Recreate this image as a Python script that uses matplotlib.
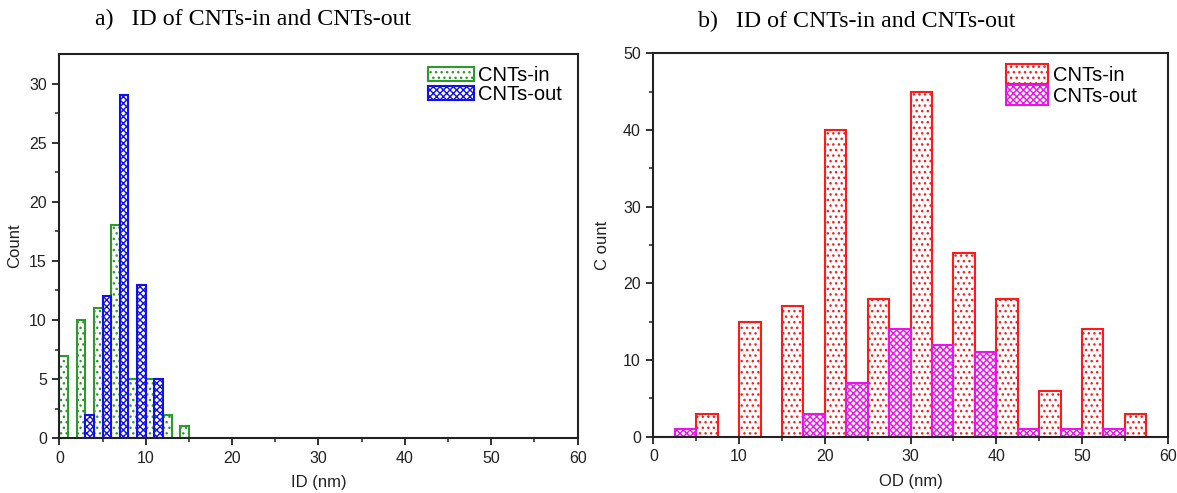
import matplotlib
matplotlib.use("Agg")
import matplotlib.pyplot as plt
import numpy as np

plt.rcParams["font.family"] = ["Liberation Sans", "DejaVu Sans"]
plt.rcParams["hatch.linewidth"] = 1.0

# (a) inner diameter, 2 nm bins (left edges)
id_bins = [0, 2, 4, 6, 8, 10, 12, 14]
id_in = [7, 10, 11, 18, 5, 5, 2, 1]
id_out = [0, 2, 12, 29, 13, 5, 0, 0]

# (b) outer diameter, 5 nm bins (left edges)
od_bins = [0, 5, 10, 15, 20, 25, 30, 35, 40, 45, 50, 55]
od_in = [0, 3, 15, 17, 40, 18, 45, 24, 18, 6, 14, 3]
od_out = [1, 0, 0, 3, 7, 14, 12, 11, 1, 1, 1, 0]

fig = plt.figure(figsize=(11.77, 4.93), dpi=100)
ax_a = fig.add_axes([0.0504, 0.111, 0.4404, 0.7795])
ax_b = fig.add_axes([0.5551, 0.1142, 0.437, 0.7777])


def draw_panel(ax, bins, v_in, v_out, width, c_in, c_out, h_in, h_out):
    x = np.array(bins, dtype=float)
    half = width / 2
    ax.bar(x, v_in, width=half, align="edge", facecolor="white",
           edgecolor=c_in, hatch=h_in, linewidth=1.5, label="CNTs-in")
    keep = np.array(v_out) > 0
    ax.bar(x[keep] + half, np.array(v_out)[keep], width=half, align="edge",
           facecolor="white", edgecolor=c_out, hatch=h_out, linewidth=1.5,
           label="CNTs-out")
    ax.set_xlim(0, 60)
    ax.set_xticks(range(0, 61, 10))
    ax.set_xticks(range(5, 60, 10), minor=True)
    ax.tick_params(which="both", direction="out", top=False, right=False,
                   labelsize=11.5, labelcolor="#222222", color="#222222")
    ax.tick_params(which="major", length=5, width=1.3, pad=4)
    ax.tick_params(which="minor", length=3, width=1.1)
    for s in ax.spines.values():
        s.set_linewidth(1.5)
        s.set_color("#222222")


draw_panel(ax_a, id_bins, id_in, id_out, 2, "#2e9a2e", "#1010ee", "...", "xxxxx")
ax_a.set_ylim(0, 32.5)
ax_a.set_yticks(range(0, 31, 5))
ax_a.set_yticks(np.arange(2.5, 32.5, 5), minor=True)
ax_a.set_xlabel("ID (nm)", fontsize=12, color="#222222", labelpad=7)
ax_a.set_ylabel("Count", fontsize=12, color="#222222", labelpad=5)
ax_a.legend(loc="upper left", bbox_to_anchor=(0.711, 0.968), frameon=False,
            fontsize=14.5, handlelength=2.3, handleheight=0.65,
            labelspacing=0.0, handletextpad=0.2, borderpad=0,
            borderaxespad=0)

draw_panel(ax_b, od_bins, od_in, od_out, 5, "#ff1a1a", "#ee11ee", "...", "xxxxx")
ax_b.set_ylim(0, 50)
ax_b.set_yticks(range(0, 51, 10))
ax_b.set_yticks(range(5, 50, 10), minor=True)
ax_b.set_xlabel("OD (nm)", fontsize=12, color="#222222", labelpad=7)
ax_b.set_ylabel("C ount", fontsize=12, color="#222222", labelpad=9)
ax_b.legend(loc="upper left", bbox_to_anchor=(0.686, 0.972), frameon=False,
            fontsize=14.5, handlelength=2.1, handleheight=1.17,
            labelspacing=0.0, handletextpad=0.2, borderpad=0,
            borderaxespad=0)

fig.text(95 / 1177, 1 - 25 / 493, "a)   ID of CNTs-in and CNTs-out",
         family="Liberation Serif", fontsize=17.2, ha="left", va="baseline")
fig.text(698 / 1177, 1 - 27 / 493, "b)   ID of CNTs-in and CNTs-out",
         family="Liberation Serif", fontsize=17.2, ha="left", va="baseline")

fig.savefig("out.png", dpi=100)
